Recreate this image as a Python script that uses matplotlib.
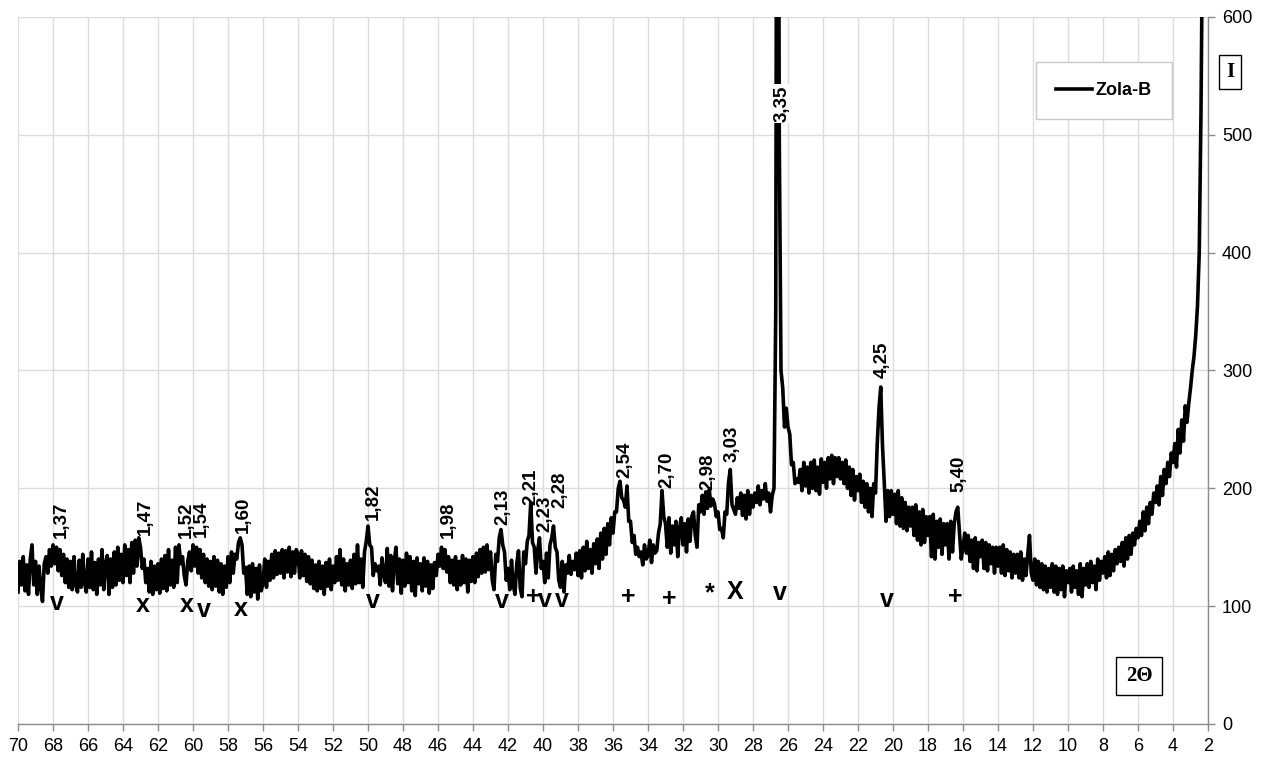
import matplotlib
matplotlib.use("Agg")
import matplotlib.pyplot as plt
import numpy as np

plt.rcParams['font.family'] = ['Liberation Sans', 'DejaVu Sans']

# 2-theta grid: 70.0 -> 2.0 in 0.1 deg steps (one row per degree below)
two_theta_start = 70.0
two_theta_step = 0.1

intensity = [
    112,138,118,142,113,135,110,140,152,118,   # 70
    138,110,134,116,104,136,142,128,148,134,   # 69
    152,136,150,130,148,126,144,120,140,116,   # 68
    138,114,142,118,112,139,116,144,120,112,   # 67
    140,116,146,114,137,110,140,118,148,114,   # 66
    136,143,110,140,116,146,118,150,122,144,   # 65
    120,152,126,148,120,154,128,156,134,158,   # 64
    150,132,140,120,132,112,138,110,134,114,   # 63
    136,111,140,115,143,113,148,118,139,116,   # 62
    150,120,152,136,142,126,118,138,146,130,   # 61
    152,134,150,128,148,124,144,120,140,117,   # 60
    138,114,142,117,139,112,136,110,134,116,   # 59
    142,120,146,128,144,140,154,158,152,128,   # 58
    133,110,134,108,136,112,132,106,135,113,   # 57
    120,140,116,138,122,144,124,147,127,145,   # 56
    128,148,124,147,129,150,125,146,128,148,   # 55
    144,124,147,126,144,121,142,119,139,115,   # 54
    135,113,138,115,134,110,137,117,140,114,   # 53
    134,120,142,122,148,118,140,113,136,118,   # 52
    139,115,144,119,152,120,140,116,146,155,   # 51
    168,152,150,126,136,130,134,118,141,127,   # 50
    120,149,117,143,113,138,150,119,140,111,   # 49
    139,117,145,120,142,113,138,109,141,119,   # 48
    136,113,141,117,138,111,135,115,137,126,   # 47
    144,134,150,132,148,129,142,120,139,118,   # 46
    142,114,138,118,143,120,140,112,139,121,   # 45
    142,120,145,125,148,128,150,129,152,131,   # 44
    146,122,114,144,138,158,165,152,146,122,   # 43
    132,114,139,118,110,136,147,115,108,146,   # 42
    136,155,160,188,154,150,128,148,158,132,   # 41
    138,120,145,124,152,158,168,150,146,122,   # 40
    116,138,112,135,128,143,127,138,131,145,   # 39
    126,147,124,150,130,155,132,148,128,153,   # 38
    136,157,132,162,140,166,144,170,152,175,   # 37
    162,180,180,200,206,192,190,184,202,172,   # 36
    172,154,160,144,150,142,146,135,152,140,   # 35
    143,156,137,152,145,147,162,170,198,176,   # 34
    170,150,175,145,168,152,172,142,166,175,   # 33
    152,170,146,174,155,176,180,160,150,186,   # 32
    180,194,178,197,183,199,185,191,187,176,   # 31
    180,165,166,158,180,178,205,216,186,182,   # 30
    178,192,183,196,177,194,174,198,178,194,   # 29
    184,196,188,202,186,198,191,204,189,196,   # 28
    180,194,200,350,1200,500,300,285,252,268,  # 27
    252,246,220,222,204,208,205,216,198,222,   # 26
    202,218,196,222,200,224,198,218,195,225,   # 25
    205,222,200,226,208,228,204,226,210,226,   # 24
    208,222,204,224,200,218,194,216,190,210,   # 23
    198,212,188,206,184,204,180,200,176,204,   # 22
    196,238,268,286,236,205,172,198,176,198,   # 21
    178,195,170,198,168,192,166,188,164,184,   # 20
    168,184,160,186,156,180,152,182,154,176,   # 19
    160,176,142,178,140,172,150,174,144,170,   # 18
    152,170,140,172,146,170,180,184,162,140,   # 17
    150,162,145,160,138,156,132,158,130,154,   # 16
    142,156,132,154,130,152,136,150,128,150,   # 15
    134,150,128,152,126,148,130,146,124,144,   # 14
    128,144,124,146,122,140,126,144,160,128,   # 13
    122,140,118,138,116,136,114,134,112,132,   # 12
    116,136,112,134,110,132,114,134,108,130,   # 11
    120,132,112,134,116,130,110,136,108,132,   # 10
    118,136,116,138,120,134,114,140,122,138,   # 9
    128,142,124,146,126,144,130,148,136,150,   # 8
    138,154,134,158,140,160,144,162,152,166,   # 7
    158,172,160,180,164,184,170,188,178,196,   # 6
    188,202,186,210,194,216,204,222,210,230,   # 5
    222,238,218,250,230,258,240,270,256,272,   # 4
    285,300,312,330,355,400,520,700,900,1200,  # 3
    1500,                                      # 2.0
]

# d-spacing labels: (text, 2theta, y of label base)
d_labels = ["1,37", "1,47", "1,52", "1,54", "1,60", "1,82", "1,98", "2,13", "2,21",
            "2,23", "2,28", "2,54", "2,70", "2,98", "3,03", "3,35", "4,25", "5,40"]
d_x = [67.5, 62.74, 60.35, 59.5, 57.14, 49.7, 45.4, 42.3, 40.7,
       39.9, 39.03, 35.3, 32.9, 30.6, 29.2, 26.34, 20.63, 16.23]
d_y = [158, 160, 158, 159, 162, 173, 158, 169, 186,
       163, 183, 209, 200, 199, 222, 511, 294, 197]

# phase symbols below the pattern
sym_text = ["v", "x", "x", "v", "x", "v", "v", "+", "v", "v", "+", "+", "*", "X", "v", "v", "+"]
sym_x = [67.77, 62.86, 60.34, 59.37, 57.26, 49.71, 42.34, 40.57, 39.89, 38.9,
         35.14, 32.8, 30.46, 29.03, 26.46, 20.34, 16.46]
sym_y = [103, 101, 101, 97, 98, 104, 104, 108, 105, 105, 108, 106, 111, 112, 111, 105, 108]

x_ticks = list(range(70, 1, -2))
y_ticks = [0, 100, 200, 300, 400, 500, 600]

two_theta = np.round(two_theta_start - two_theta_step * np.arange(len(intensity)), 1)

W, H = 1261, 763
fig = plt.figure(figsize=(W / 100, H / 100), dpi=100)
ax = fig.add_axes([18 / W, 1 - 724 / H, 1190 / W, 707 / H])

ax.plot(two_theta, intensity, color="black", lw=2.6, label="Zola-B", zorder=3)

ax.set_xlim(70, 2)
ax.set_ylim(0, 600)
ax.set_xticks(x_ticks)
ax.set_yticks(y_ticks)
ax.yaxis.tick_right()
ax.grid(True, color="#dcdcdc", lw=1.0, zorder=0)
ax.set_axisbelow(True)
for s in ["left", "top"]:
    ax.spines[s].set_visible(False)
for s in ["right", "bottom"]:
    ax.spines[s].set_color("#8c8c8c")
    ax.spines[s].set_linewidth(1.0)
ax.tick_params(axis="both", colors="#8c8c8c", length=5, width=1.0, labelsize=13,
               labelcolor="black")
ax.tick_params(axis="x", pad=5)
ax.tick_params(axis="y", pad=5)

for t, x, y in zip(d_labels, d_x, d_y):
    kw = {}
    if t == "3,35":
        kw["bbox"] = dict(facecolor="white", edgecolor="none", pad=1)
    ax.text(x, y, t, rotation=90, ha="center", va="bottom", fontsize=13.5,
            fontweight="bold", zorder=5, **kw)

for t, x, y in zip(sym_text, sym_x, sym_y):
    ax.text(x, y, t, ha="center", va="center", fontsize=18, fontweight="bold", zorder=5)

leg = ax.legend(loc="upper right", bbox_to_anchor=(0.9697, 0.936), borderaxespad=0,
                fancybox=False, edgecolor="#c8c8c8", framealpha=1,
                prop={"weight": "bold", "size": 13}, handlelength=2.0,
                handletextpad=0.2, borderpad=1.1)
leg.get_frame().set_linewidth(1.0)
leg.get_lines()[0].set_linewidth(2.6)

fig.text(1230 / W, 1 - 72 / H, "I", family="Liberation Serif", fontweight="bold",
         fontsize=15, ha="center", va="center",
         bbox=dict(boxstyle="square,pad=0.35", facecolor="white", edgecolor="black", lw=1))

ax.text(5.94, 40.7, "2Θ", family="Liberation Serif", fontweight="bold", fontsize=15,
        ha="center", va="center", zorder=6,
        bbox=dict(boxstyle="square,pad=0.45", facecolor="white", edgecolor="black", lw=1))

fig.savefig("out.png", dpi=100)
